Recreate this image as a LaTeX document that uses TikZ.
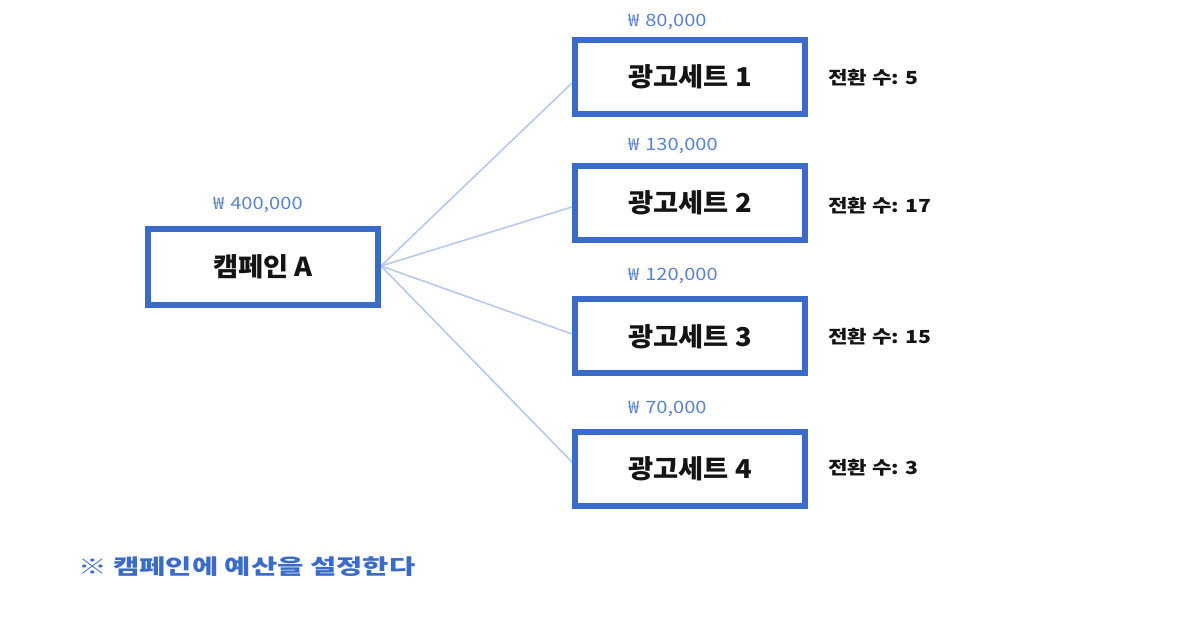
\documentclass[tikz,border=0pt]{standalone}
\usepackage{fontspec}
\setmainfont{Noto Sans CJK KR}
\newfontfamily\krwide[FakeStretch=1.36]{Noto Sans CJK KR}
\newfontfamily\krmid[FakeStretch=1.18]{Noto Sans CJK KR}
\newfontfamily\krbox[FakeStretch=1.05]{Noto Sans CJK KR}
\usetikzlibrary{backgrounds}
\definecolor{boxblue}{HTML}{3A6BC8}
\definecolor{lineblue}{HTML}{B7CAEE}
\definecolor{budgetblue}{HTML}{5A82D2}
\definecolor{txt}{HTML}{141414}
\tikzset{
  setbox/.style={draw=boxblue, line width=6pt, fill=white, minimum width=230pt, minimum height=74pt, inner sep=0pt, text=txt, font=\krbox\fontsize{26}{28}\selectfont\bfseries},
  budget/.style={anchor=west, inner sep=0pt, text=budgetblue, font=\krmid\fontsize{17}{19}\selectfont},
  conv/.style={anchor=west, inner sep=0pt, text=txt, font=\krmid\fontsize{18}{20}\selectfont\bfseries},
  link/.style={draw=lineblue, line width=1.6pt}
}
\begin{document}
\begin{tikzpicture}[x=1pt,y=-1pt]
\useasboundingbox (0,0) rectangle (1200,628);
\node[setbox, minimum height=76pt] (camp) at (263,267) {캠페인 A};
\node[setbox] (s1) at (690,77) {광고세트 1};
\node[setbox] (s2) at (690,203) {광고세트 2};
\node[setbox] (s3) at (690,336.5) {광고세트 3};
\node[setbox] (s4) at (690,468.5) {광고세트 4};
\node[budget] (bc) at (213,205) {₩\hspace{0.35em}400,000};
\node[budget] (b1) at (628,22) {₩\hspace{0.35em}80,000};
\node[budget] (b2) at (628,146) {₩\hspace{0.35em}130,000};
\node[budget] (b3) at (628,276) {₩\hspace{0.35em}120,000};
\node[budget] (b4) at (628,409) {₩\hspace{0.35em}70,000};
\node[conv] (c1) at (828,78) {전환 수: 5};
\node[conv] (c2) at (828,206) {전환 수: 17};
\node[conv] (c3) at (828,337) {전환 수: 15};
\node[conv] (c4) at (828,468) {전환 수: 3};
\coordinate (o) at ([yshift=1pt]camp.east);
\begin{scope}[on background layer]
\fill[white] (0,0) rectangle (1200,628);
\draw[link] (o) -- ([yshift=-6pt]s1.west);
\draw[link] (o) -- ([yshift=-4pt]s2.west);
\draw[link] (o) -- ([yshift=2.5pt]s3.west);
\draw[link] (o) -- ([yshift=6.5pt]s4.west);
\end{scope}
\node[anchor=west, inner sep=0pt, text=boxblue, font=\krwide\fontsize{21}{23}\selectfont\bfseries] (note) at (78,567) {※ 캠페인에 예산을 설정한다};
\end{tikzpicture}
\end{document}
